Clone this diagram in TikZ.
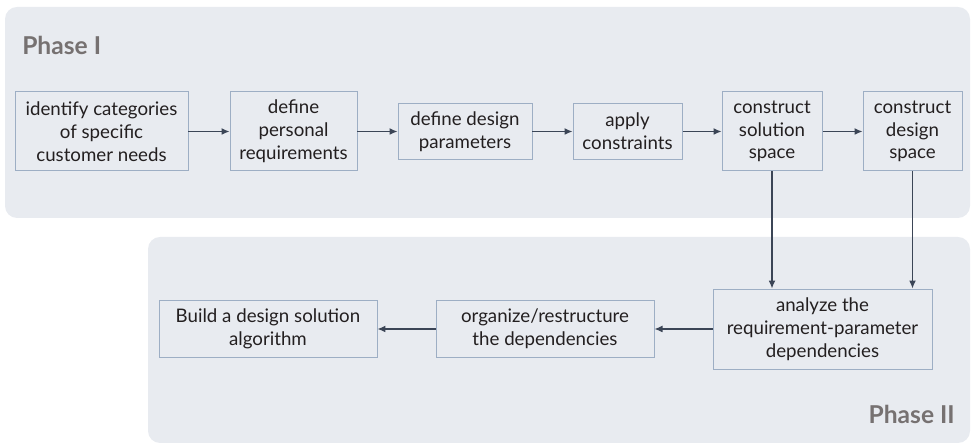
\documentclass[tikz,border=0pt]{standalone}
\usepackage{fontspec}
\setmainfont{Lato}
\usepackage{tikz}
\usepackage{xcolor}
\usetikzlibrary{arrows.meta,calc,positioning}
\definecolor{figInk}{RGB}{35,31,32}
\definecolor{figLine}{RGB}{157,174,196}
\definecolor{figArrow}{RGB}{59,69,86}
\definecolor{figPanel}{RGB}{232,235,240}
\definecolor{figLabel}{RGB}{118,113,113}

\begin{document}
\begin{tikzpicture}[
  x=1cm,
  y=1cm,
  >=Latex,
  font=\fontsize{13.3}{16.2}\selectfont,
  panel/.style={fill=figPanel, draw=none, rounded corners=0.3cm},
  stage/.style={draw=figLine, fill=figPanel, line width=0.7pt, align=center, inner sep=2pt, text=figInk},
  phase/.style={font=\fontsize{17.5}{20}\selectfont\bfseries, text=figLabel, inner sep=0pt},
  line/.style={-{Latex[length=2mm, width=1.7mm]}, draw=figArrow, line width=0.8pt}
]
\useasboundingbox (0,0) rectangle (24.275,11.125);

% the two phase panels
\fill[panel] (0.125,5.675) rectangle (24.25,10.95);
\fill[panel] (3.7,0.05) rectangle (24.25,5.2);

\node[phase, anchor=base west] (ph1) at (0.55,9.75) {Phase I};
\node[phase, anchor=base east] (ph2) at (23.875,0.525) {Phase II};

% phase I
\node[stage, minimum width=4.325cm, minimum height=1.975cm] (p1) at (2.5375,7.8375)
  {identify categories\\of specific\\customer needs};
\node[stage, minimum width=3.175cm, minimum height=1.975cm] (p2) at (7.3375,7.8375)
  {define\\personal\\requirements};
\node[stage, minimum width=3.35cm, minimum height=1.4cm] (p3) at (11.625,7.8375)
  {define design\\parameters};
\node[stage, minimum width=2.725cm, minimum height=1.4cm] (p4) at (15.6875,7.8375)
  {apply\\constraints};
\node[stage, minimum width=2.5cm, minimum height=1.975cm] (p5) at (19.3,7.8375)
  {construct\\solution\\space};
\node[stage, minimum width=2.475cm, minimum height=1.975cm] (p6) at (22.8125,7.8375)
  {construct\\design\\space};

\draw[line] (p1.east) -- (p2.west);
\draw[line] (p2.east) -- (p3.west);
\draw[line] (p3.east) -- (p4.west);
\draw[line] (p4.east) -- (p5.west);
\draw[line] (p5.east) -- (p6.west);

% phase II
\node[stage, minimum width=5.475cm, minimum height=2.0cm] (q1) at (20.5625,2.9)
  {analyze the\\requirement-parameter\\dependencies};
\node[stage, minimum width=5.45cm, minimum height=1.425cm] (q2) at (13.625,2.9)
  {organize/restructure\\the dependencies};
\node[stage, minimum width=5.45cm, minimum height=1.425cm] (q3) at (6.7,2.9)
  {Build a design solution\\algorithm};

\draw[line] (p5.south) -- (p5.south |- q1.north);
\draw[line] (p6.south) -- (p6.south |- q1.north);
\draw[line] (q1.west) -- (q2.east);
\draw[line] (q2.west) -- (q3.east);
\end{tikzpicture}
\end{document}
